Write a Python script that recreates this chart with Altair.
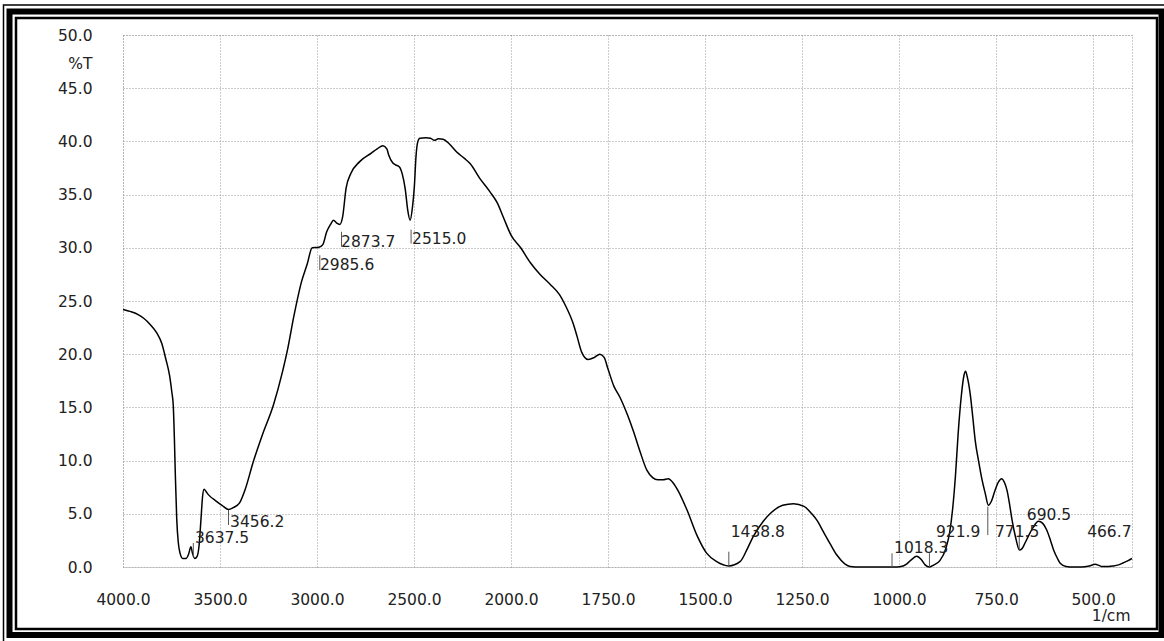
import altair as alt
import pandas as pd

# IR transmittance spectrum (wavenumber in 1/cm, %T)
wavenumber = [
    4000, 3960, 3920, 3895, 3860, 3826, 3800, 3780, 3760, 3748, 3741, 3735, 3730,
    3723, 3715, 3706, 3692, 3675, 3662, 3650, 3642, 3630, 3618, 3608, 3598, 3590,
    3582, 3572, 3560, 3520, 3490, 3456, 3430, 3400, 3370, 3330, 3280, 3225, 3180,
    3150, 3120, 3080, 3050, 3025, 2990, 2970, 2950, 2930, 2915, 2900, 2882, 2868,
    2850, 2825, 2780, 2720, 2690, 2660, 2640, 2630, 2610, 2595, 2575, 2560, 2545,
    2532, 2520, 2508, 2498, 2490, 2480, 2470, 2440, 2415, 2395, 2375, 2350, 2320,
    2280, 2240, 2210, 2160, 2110, 2070, 2040, 2000, 1975, 1950, 1925, 1900, 1875,
    1860, 1840, 1830, 1818, 1801, 1785, 1771, 1760, 1750, 1735, 1720, 1700, 1685,
    1668, 1650, 1635, 1622, 1608, 1595, 1582, 1570, 1547, 1520, 1496, 1470, 1438.8,
    1410, 1390, 1376, 1350, 1330, 1300, 1272, 1245, 1225, 1212, 1195, 1178, 1160,
    1140, 1126, 1100, 1050, 1015, 995, 980, 968, 955, 943, 933, 922, 910, 895, 880,
    870, 862, 855, 848, 840, 833, 829, 824, 817, 810, 804, 795, 787, 778, 770, 762,
    753, 744, 736, 728, 722, 715, 709, 700, 690, 684, 675, 667, 655, 641, 630, 620,
    610, 602, 592, 585, 570, 551, 530, 510, 495, 485, 478, 460, 448, 435, 422, 410,
    400,
]
transmittance = [
    24.2, 24.0, 23.7, 23.4, 22.8, 22.0, 21.0, 19.6, 18.0, 16.4, 15.2, 12.0, 8.5,
    4.5, 2.3, 1.3, 0.8, 0.8, 1.2, 1.9, 1.3, 0.8, 1.0, 2.0, 4.5, 6.6,
    7.3, 7.1, 6.8, 6.2, 5.8, 5.4, 5.6, 6.0, 7.3, 9.8, 12.5, 15.2, 18.2,
    20.6, 23.5, 26.8, 28.5, 30.0, 30.05, 30.3, 31.5, 32.2, 32.6, 32.35, 32.2, 32.9,
    35.6, 37.0, 38.1, 38.9, 39.3, 39.6, 39.3, 38.7, 38.0, 37.8, 37.6, 36.9, 35.5,
    33.5, 32.6, 33.8, 35.8, 38.5, 40.0, 40.3, 40.35, 40.3, 40.1, 40.25, 40.2, 39.8,
    39.0, 38.4, 37.9, 36.5, 35.3, 34.2, 32.9, 31.2, 30.0, 28.6, 27.5, 26.6, 25.6,
    24.6, 22.9, 21.7, 20.2, 19.5, 19.7, 20.0, 19.7, 18.6, 17.0, 16.0, 14.3, 12.8,
    10.9, 9.1, 8.4, 8.2, 8.2, 8.3, 7.9, 7.2, 5.4, 2.9, 1.3, 0.5, 0.1,
    0.5, 1.8, 2.85, 4.3, 5.1, 5.8, 5.95, 5.7, 5.0, 4.4, 3.3, 2.2, 1.1,
    0.3, 0.05, 0.0, 0.0, 0.0, 0.05, 0.3, 0.7, 1.0, 0.7, 0.2, 0.0, 0.2, 0.6, 1.7,
    3.2, 5.5, 8.5, 12.5, 16.0, 18.0, 18.4, 17.8, 16.3, 14.0, 11.9, 9.9, 8.3, 6.9, 5.8, 6.2,
    7.2, 8.0, 8.3, 7.9, 7.2, 5.8, 4.4, 2.8, 1.6, 1.7, 2.3, 2.9, 3.7, 4.3, 4.1, 3.5,
    2.5, 1.6, 0.8, 0.35, 0.05, 0.0, 0.0, 0.1, 0.25, 0.15, 0.05, 0.05, 0.1, 0.2, 0.4, 0.6,
    0.8,
]

# Peak annotations
peak_labels = ["3637.5", "3456.2", "2985.6", "2873.7", "2515.0", "1438.8",
               "1018.3", "921.9", "771.5", "690.5", "466.7"]
peak_wn = [3637.5, 3456.2, 2985.6, 2873.7, 2515.0, 1438.8,
           1018.3, 921.9, 771.5, 690.5, 466.7]
label_wn = [3629, 3448, 2984.5, 2876, 2510, 1434, 1013, 905, 753, 671, 515.6]
label_t = [2.26, 3.76, 27.9, 30.1, 30.4, 2.85, 1.29, 2.8, 2.8, 4.4, 2.8]
# vertical marker lines (first ten peaks)
marker_low = [0.95, 3.95, 27.9, 30.1, 30.4, 0.12, 0.0, 0.0, 3.0, 1.6]
marker_high = [2.26, 5.36, 29.3, 31.5, 31.7, 1.44, 1.29, 1.3, 5.67, 3.0]

x_ticks = [4000, 3500, 3000, 2500, 2000, 1750, 1500, 1250, 1000, 750, 500]
y_ticks = [0, 5, 10, 15, 20, 25, 30, 35, 40, 45, 50]

W, H = 1009, 532
FONT = "DejaVu Sans"
FS = 15.5
INK = "#222222"

spectrum = pd.DataFrame({
    "idx": range(len(wavenumber)),
    "wn": wavenumber,
    "T": transmittance,
})
labels = pd.DataFrame({"text": peak_labels, "lx": label_wn, "ly": label_t})
markers = pd.DataFrame({
    "wn": peak_wn[:len(marker_low)],
    "lo": marker_low,
    "hi": marker_high,
})

# Wavenumber axis: 500 1/cm per grid step above 2000, 250 below
x_scale = alt.Scale(domain=[4000, 2000, 400], range=[0, 388, W], nice=False, zero=False)
y_scale = alt.Scale(domain=[0, 50], nice=False, zero=False)

x_axis = alt.Axis(
    values=x_ticks, format=".1f", title="1/cm",
    titleX=1007, titleY=48, titleAlign="right", titleBaseline="middle",
    titleFont=FONT, titleFontSize=FS, titleFontWeight="normal", titleColor=INK,
    labelFont=FONT, labelFontSize=FS, labelColor=INK, labelPadding=25,
    labelBaseline="top", labelFlush=False, labelOverlap=False,
    ticks=False, domain=False, grid=True,
    gridColor="#9a9a9a", gridDash=[1, 2], gridWidth=1,
)
y_axis = alt.Axis(
    values=y_ticks, format=".1f", title="%T",
    titleAngle=0, titleX=-31, titleY=28.5, titleAlign="right", titleBaseline="middle",
    titleFont=FONT, titleFontSize=FS, titleFontWeight="normal", titleColor=INK,
    labelFont=FONT, labelFontSize=FS, labelColor=INK, labelPadding=31,
    labelBaseline="middle", labelFlush=False, labelOverlap=False,
    ticks=False, domain=False, grid=True,
    gridColor="#9a9a9a", gridDash=[1, 2], gridWidth=1,
)

curve = alt.Chart(spectrum).mark_line(
    color="black", strokeWidth=1.5, interpolate="monotone"
).encode(
    x=alt.X("wn:Q", scale=x_scale, axis=x_axis),
    y=alt.Y("T:Q", scale=y_scale, axis=y_axis),
    order="idx:Q",
)

marks = alt.Chart(markers).mark_rule(color="#555555", strokeWidth=1).encode(
    x=alt.X("wn:Q", scale=x_scale),
    y=alt.Y("lo:Q", scale=y_scale),
    y2="hi:Q",
)

texts = alt.Chart(labels).mark_text(
    align="left", baseline="alphabetic", font=FONT, fontSize=FS, color=INK
).encode(
    x=alt.X("lx:Q", scale=x_scale),
    y=alt.Y("ly:Q", scale=y_scale),
    text="text:N",
)

# Decorative triple border around the printout
blank = alt.Data(values=[{}])
def frame(x0, y0, x1, y1, width):
    return alt.Chart(blank).mark_rect(
        filled=False, stroke="black", strokeWidth=width
    ).encode(
        x=alt.value(x0), y=alt.value(y0), x2=alt.value(x1), y2=alt.value(y1)
    )

border = (
    frame(-119.5, -30, 1043, 610, 1.5)
    + frame(-113.5, -23.5, 1038.5, 600, 6)
    + frame(-107, -17, 1034, 594, 2.5)
)

chart = alt.layer(curve, marks, texts, border).properties(
    width=W, height=H,
    padding={"left": 123, "top": 35, "right": 32, "bottom": 74},
    autosize=alt.AutoSizeParams(type="none"),
    background="white",
).configure_view(
    stroke="#9a9a9a", strokeDash=[1, 2], strokeWidth=1
)

chart.save("out.html", embed_options={"renderer": "svg", "actions": False})
